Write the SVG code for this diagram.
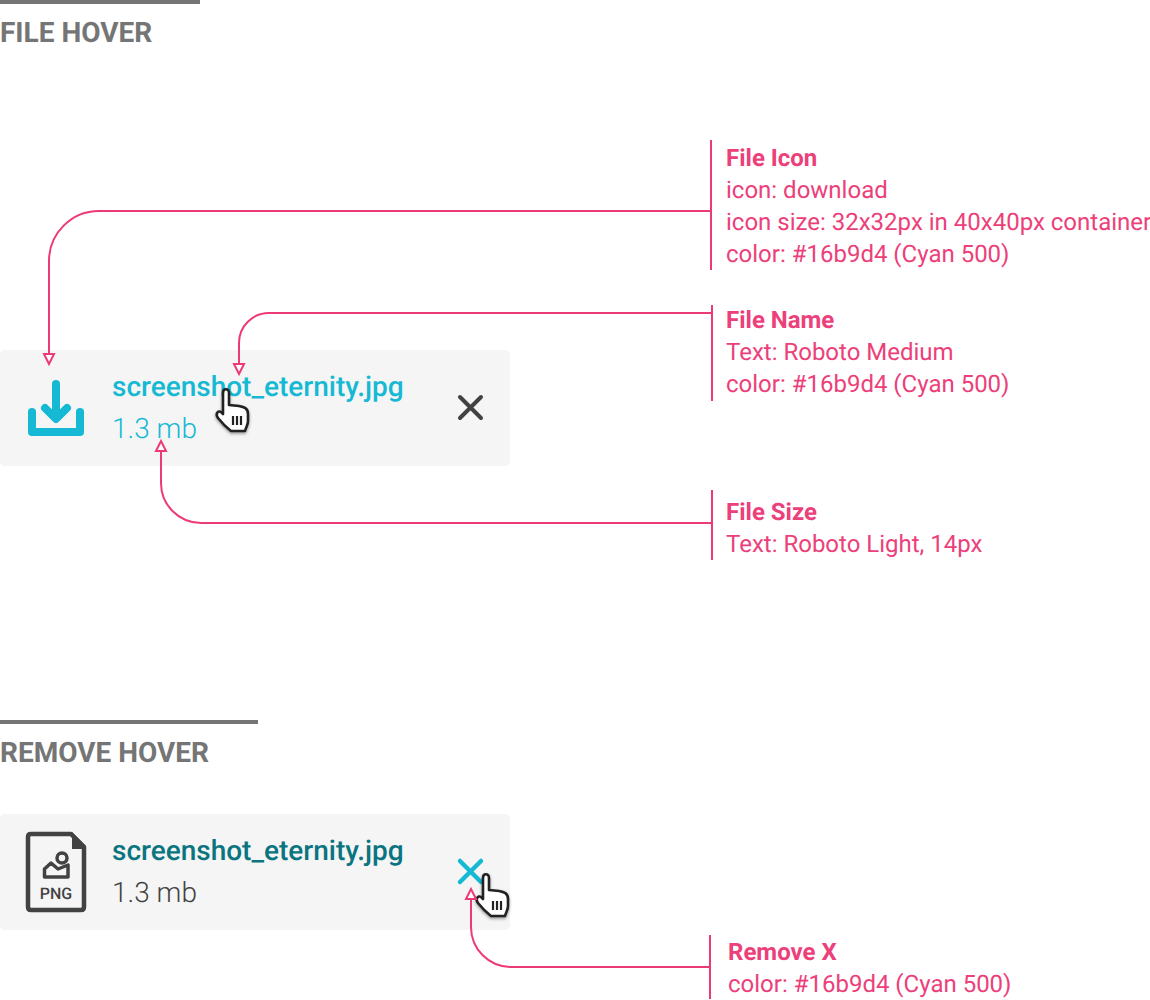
<svg xmlns="http://www.w3.org/2000/svg" width="1150" height="1000" viewBox="0 0 1150 1000">
<style>
text{font-family:Roboto,"Liberation Sans",sans-serif;text-rendering:geometricPrecision}
.h{font-size:28px;font-weight:700;fill:#757575}
.n{font-size:28px;font-weight:500}
.s{font-size:28px;font-weight:300}
.a{font-size:24px;fill:#ec407a}
.ab{font-weight:700}
.c{fill:none;stroke:#ec3a78;stroke-width:2}
.t{fill:#fff;stroke:#ec3a78;stroke-width:2}
.b{fill:none;stroke:#ec3a78;stroke-width:2}
.card{fill:#f5f5f5}
</style>
<defs>
<filter id="sh" x="-30%" y="-30%" width="160%" height="160%"><feDropShadow dx="0" dy="1.500" stdDeviation="1.500" flood-color="#000" flood-opacity=".4"/></filter>
<g id="hand">
<path filter="url(#sh)" d="M-8 -18C-8 -23 -2 -23 -2 -18V-6L8 -5C13 -4 17 -3 17 3V10C17 14 15 16 14 20H0C-4 17 -9 12 -13 7C-16 3 -13 -1 -10 1L-8 3Z" fill="#fff" stroke="#222" stroke-width="2.600" stroke-linejoin="round"/>
<path d="M2 5V14M6 5V14M10 5V14" stroke="#222" stroke-width="2.200" fill="none"/>
</g>
</defs>
<g id="section-file-hover">
<rect x="0" y="0" width="200" height="4" fill="#757575"/>
<text class="h" x="0" y="42">FILE HOVER</text>
</g>
<g id="section-remove-hover">
<rect x="0" y="720" width="258" height="4" fill="#757575"/>
<text class="h" x="0" y="762">REMOVE HOVER</text>
</g>
<g id="file-card-hover">
<rect class="card" x="0" y="350" width="510" height="116" rx="5"/>
<g id="download-icon">
<path d="M56 384V418M45 408L56 419L67 408M32 412V432H80V412" fill="none" stroke="#16b9d4" stroke-width="8" stroke-linecap="round" stroke-linejoin="round"/>
</g>
<text class="n" x="112" y="396" fill="#16b9d4">screenshot_eternity.jpg</text>
<text class="s" x="112" y="438" fill="#16b9d4">1.3 mb</text>
<path d="M460 397L481 418M481 397L460 418" stroke="#424242" stroke-width="4" stroke-linecap="round"/>
<use href="#hand" x="231" y="411"/>
</g>
<g id="file-card-remove">
<rect class="card" x="0" y="814" width="510" height="116" rx="5"/>
<g id="png-icon">
<path d="M71 834H31Q28 834 28 837V907Q28 910 31 910H81Q84 910 84 907V847Z" fill="none" stroke="#424242" stroke-width="4.500" stroke-linejoin="round"/>
<path d="M72 832L86 846V849H72Z" fill="#424242"/>
<circle cx="62" cy="858" r="5" fill="none" stroke="#424242" stroke-width="3.500"/>
<path d="M44.500 877V869L51 863L58 869L68 865V877Z" fill="none" stroke="#424242" stroke-width="3.500" stroke-linejoin="round"/>
<text x="56" y="899" font-size="16" font-weight="500" text-anchor="middle" fill="#424242">PNG</text>
</g>
<text class="n" x="112" y="860" fill="#0a7480">screenshot_eternity.jpg</text>
<text class="s" x="112" y="902" fill="#424242">1.3 mb</text>
<path d="M460 861L481 882M481 861L460 882" stroke="#16b9d4" stroke-width="4.500" stroke-linecap="round"/>
<use href="#hand" x="491" y="896"/>
</g>
<g id="connectors">
<path class="c" d="M711 211H99A50 50 0 0 0 49 261V353"/>
<path class="t" d="M44 354H54L49 364Z"/>
<path class="c" d="M712 313H269A30 30 0 0 0 239 343V364"/>
<path class="t" d="M234 364H244L239 374Z"/>
<path class="c" d="M712 523H201A40 40 0 0 1 161 483V451"/>
<path class="t" d="M156 451H166L161 441Z"/>
<path class="c" d="M710 967H511A40 40 0 0 1 471 927V899"/>
<path class="t" d="M466 899H476L471 889Z"/>
</g>
<g id="note-file-icon">
<path class="b" d="M711 140V270"/>
<text class="a ab" x="726" y="166">File Icon</text>
<text class="a" x="726" y="198">icon: download</text>
<text class="a" x="726" y="230">icon size: 32x32px in 40x40px container</text>
<text class="a" x="726" y="262">color: #16b9d4 (Cyan 500)</text>
</g>
<g id="note-file-name">
<path class="b" d="M712 305V401"/>
<text class="a ab" x="726" y="328">File Name</text>
<text class="a" x="726" y="360">Text: Roboto Medium</text>
<text class="a" x="726" y="392">color: #16b9d4 (Cyan 500)</text>
</g>
<g id="note-file-size">
<path class="b" d="M712 490V560"/>
<text class="a ab" x="726" y="520">File Size</text>
<text class="a" x="726" y="552">Text: Roboto Light, 14px</text>
</g>
<g id="note-remove-x">
<path class="b" d="M710 935V999"/>
<text class="a ab" x="728" y="960">Remove X</text>
<text class="a" x="728" y="992">color: #16b9d4 (Cyan 500)</text>
</g>
</svg>
